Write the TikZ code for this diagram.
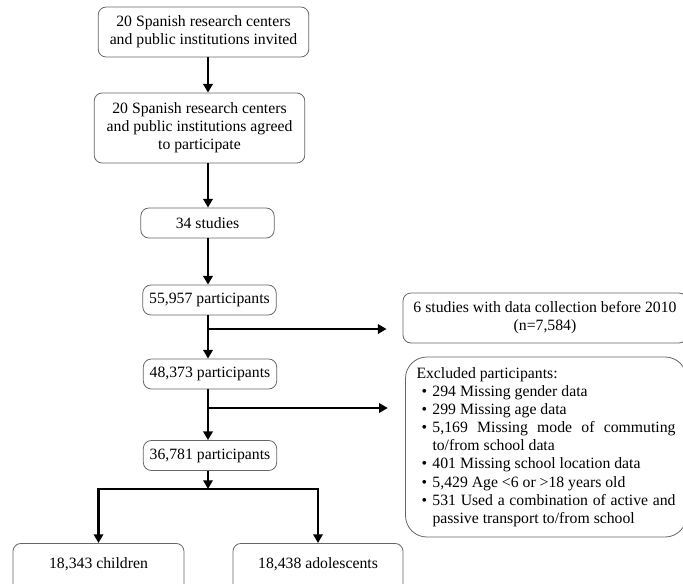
\documentclass[tikz,border=0pt]{standalone}
\usepackage{fontspec}
\setmainfont{Liberation Serif}
\usetikzlibrary{arrows.meta,positioning}
\newcommand{\exitem}[1]{\par\noindent\hangindent=12pt\hangafter=1\makebox[12pt][l]{\hspace{3.8pt}\textbullet}#1\par}

\begin{document}
\begin{tikzpicture}[x=0.75pt,y=-0.75pt,
  box/.style={draw=black!60, line width=0.6pt, rounded corners=6pt, align=center, inner sep=2pt, font=\fontsize{11.8}{13.6}\selectfont},
  flow/.style={line width=2.2pt, -{Triangle[length=6.5pt,width=7pt]}},
  bar/.style={line width=2.2pt}]
\useasboundingbox (0,0) rectangle (683,583);
\coordinate (spine) at (208,0);
\node[box, minimum width=158pt, minimum height=37.5pt] (inv) at (203.5,32) {20 Spanish research centers\\and public institutions invited};
\node[box, minimum width=158pt, minimum height=52.5pt] (agr) at (199.5,128) {20 Spanish research centers\\and public institutions agreed\\to participate};
\node[box, minimum width=100pt, minimum height=22.5pt] (st) at (207.5,223) {34 studies};
\node[box, minimum width=100pt, minimum height=22.5pt] (p1) at (209.5,300) {55,957 participants};
\node[box, minimum width=100pt, minimum height=22.5pt] (p2) at (210,374) {48,373 participants};
\node[box, minimum width=100pt, minimum height=22.5pt] (p3) at (210,455.5) {36,781 participants};
\node[box, minimum width=213pt, minimum height=37.5pt] (early) at (545,318) {6 studies with data collection before 2010\\(n=7,584)};
\node[box, rounded corners=16pt, align=justify, text width=194.25pt, minimum width=210.75pt, minimum height=135pt] (excl) at (546,447) {\noindent Excluded participants:
\exitem{294 Missing gender data}
\exitem{299 Missing age data}
\exitem{5,169 Missing mode of commuting to/from school data}
\exitem{401 Missing school location data}
\exitem{5,429 Age <6 or >18 years old}
\exitem{531 Used a combination of active and passive transport to/from school}};
\node[box, minimum width=128.25pt, text height=8pt, text depth=15.5pt, inner ysep=10.75pt] (ch) at (98.5,543) [anchor=north] {18,343 children};
\node[box, minimum width=127.5pt, text height=8pt, text depth=15.5pt, inner ysep=10.75pt] (ad) at (318,543) [anchor=north] {18,438 adolescents};
\coordinate (b1) at (208,329);
\coordinate (b2) at (208,408);
\coordinate (split) at (208,489);
\draw[flow] (inv.south -| spine) -- (agr.north -| spine);
\draw[flow] (agr.south -| spine) -- (st.north -| spine);
\draw[flow] (st.south -| spine) -- (p1.north -| spine);
\draw[flow] (p1.south -| spine) -- (p2.north -| spine);
\draw[flow] (p2.south -| spine) -- (p3.north -| spine);
\draw[flow, shorten >=12pt] (b1) -- (b1 -| early.west);
\draw[flow, shorten >=13pt] (b2) -- (b2 -| excl.west);
\draw[flow] (p3.south -| spine) -- (split);
\draw[bar] ([xshift=-1.1pt]split -| ch.north) -- ([xshift=1.1pt]split -| ad.north);
\draw[flow] (split -| ch.north) -- (ch.north);
\draw[flow] (split -| ad.north) -- (ad.north);
\end{tikzpicture}
\end{document}
